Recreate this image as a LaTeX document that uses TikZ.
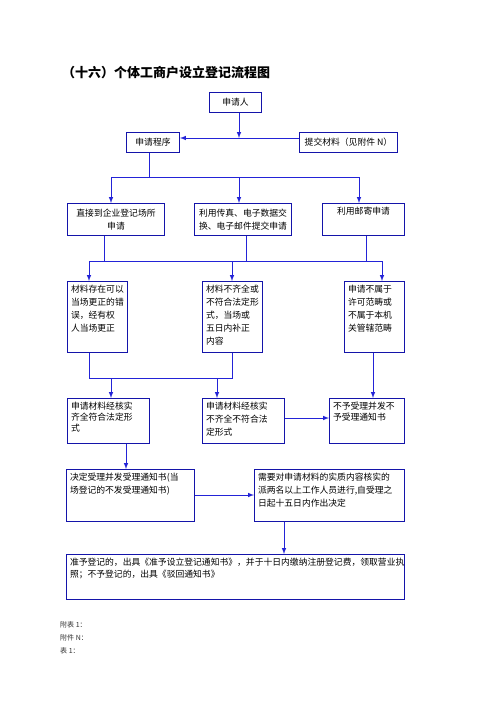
\documentclass[tikz,border=0pt]{standalone}
\usepackage{fontspec}
\setmainfont{Noto Sans CJK SC}
\usepackage{xcolor}
\usepackage{tikz}
\usetikzlibrary{arrows,positioning,calc}
\definecolor{flowblue}{RGB}{20, 20, 170}
\definecolor{linkblue}{RGB}{35, 35, 215}
\definecolor{notegray}{RGB}{50, 50, 50}

\begin{document}
\begin{tikzpicture}[x=1pt, y=-1pt, >=latex,
    flowbox/.style={draw=flowblue, line width=1pt, rectangle, anchor=north west, inner xsep=3.5pt, inner ysep=4pt, font=\fontsize{8.8}{13}\selectfont},
    link/.style={draw=linkblue, line width=1pt},
    arrow/.style={link, ->}]
    \useasboundingbox (0,0) rectangle (496,702);

    \node [anchor=west, inner sep=0pt, font=\fontsize{13}{13}\selectfont\bfseries] (title) at (62,73) {（十六）个体工商户设立登记流程图};

    % top row
    \node [flowbox, minimum width=52pt, minimum height=20pt] (applicant) at (209,92) {申请人};
    \node [flowbox, minimum width=53pt, minimum height=20pt] (program) at (126,132) {申请程序};
    \node [flowbox, minimum width=98pt, minimum height=20pt] (submit) at (299,132) {提交材料（见附件 N）};

    % ways of applying
    \node [flowbox] (direct) at (67,203) {\parbox[c][24pt][c]{90pt}{\centering 直接到企业登记场所\\申请}};
    \node [flowbox] (fax) at (194,203) {\parbox[c][24pt][c]{90pt}{\centering 利用传真、电子数据交\\换、电子邮件提交申请}};
    \node [flowbox] (mail) at (322,203) {\parbox[c][24pt][t]{75pt}{\centering 利用邮寄申请}};

    % checks
    \node [flowbox] (fix) at (67,281) {\parbox[c][63pt][t]{53pt}{\raggedright 材料存在可以\\当场更正的错\\误，经有权\\人当场更正}};
    \node [flowbox] (supplement) at (202,281) {\parbox[c][63pt][t]{53pt}{\raggedright 材料不齐全或\\不符合法定形\\式，当场或\\五日内补正\\内容}};
    \node [flowbox] (outside) at (344,281) {\parbox[c][63pt][t]{53pt}{\raggedright 申请不属于\\许可范畴或\\不属于本机\\关管辖范畴}};

    % results of the check
    \node [flowbox] (complete) at (67,398) {\parbox[c][37pt][t]{75pt}{\fontsize{8.8}{11}\selectfont\raggedright 申请材料经核实\\齐全符合法定形\\式}};
    \node [flowbox] (incomplete) at (202,398) {\parbox[c][37pt][t]{75pt}{\raggedright 申请材料经核实\\不齐全不符合法\\定形式}};
    \node [flowbox] (reject) at (329,398) {\parbox[c][37pt][t]{68pt}{\fontsize{8.8}{10.5}\selectfont\raggedright 不予受理并发不\\予受理通知书}};

    % acceptance
    \node [flowbox] (accept) at (66,469) {\parbox[c][44pt][t]{121pt}{\raggedright 决定受理并发受理通知书(当\\场登记的不发受理通知书)}};
    \node [flowbox] (verify) at (254,469) {\parbox[c][44pt][t]{143pt}{\raggedright 需要对申请材料的实质内容核实的\\派两名以上工作人员进行,自受理之\\日起十五日内作出决定}};
    \node [flowbox] (decide) at (66,554) {\parbox[c][37pt][t]{331pt}{\fontsize{8.8}{12}\selectfont\raggedright 准予登记的，出具《准予设立登记通知书》，并于十日内缴纳注册登记费，领取营业执\\照；不予登记的，出具《驳回通知书》}};

    \node [anchor=west, inner sep=0pt, text=notegray, font=\fontsize{7}{8}\selectfont] (note1) at (60,625) {附表 1：};
    \node [anchor=west, inner sep=0pt, text=notegray, font=\fontsize{7}{8}\selectfont] (note2) at (60,638) {附件 N：};
    \node [anchor=west, inner sep=0pt, text=notegray, font=\fontsize{7}{8}\selectfont] (note3) at (60,651) {表 1：};

    % connectors, top
    \coordinate (join) at (239,138);
    \draw [arrow] (applicant.south -| join) -- (join);
    \draw [arrow] (submit.west |- join) -- (program.east |- join);

    \coordinate (split) at (149,177);
    \coordinate (splitl) at (111,177);
    \coordinate (splitm) at (239,177);
    \coordinate (splitr) at (359,177);
    \draw [link] (program.south -| split) -- (split);
    \draw [link] (splitl) -- (splitr);
    \draw [arrow] (splitl) -- (direct.north -| splitl);
    \draw [arrow] (splitm) -- (fax.north -| splitm);
    \draw [arrow] (splitr) -- (mail.north -| splitr);

    % connectors, second bus
    \coordinate (gatherA) at (104,261);
    \coordinate (gatherB) at (246,261);
    \coordinate (gatherC) at (366,261);
    \coordinate (busl) at (89,261);
    \coordinate (busm) at (232,261);
    \coordinate (busr) at (382,261);
    \draw [link] (direct.south -| gatherA) -- (gatherA);
    \draw [link] (fax.south -| gatherB) -- (gatherB);
    \draw [link] (mail.south -| gatherC) -- (gatherC);
    \draw [link] (busl) -- (busr);
    \draw [arrow] (busl) -- (fix.north -| busl);
    \draw [arrow] (busm) -- (supplement.north -| busm);
    \draw [arrow] (busr) -- (outside.north -| busr);

    % connectors, third bus
    \coordinate (mergel) at (89,378);
    \coordinate (merger) at (232,378);
    \coordinate (dropG) at (111,378);
    \coordinate (dropH) at (217,378);
    \draw [link] (fix.south -| mergel) -- (mergel) -- (merger) -- (supplement.south -| merger);
    \draw [arrow] (dropG) -- (complete.north -| dropG);
    \draw [arrow] (dropH) -- (incomplete.north -| dropH);

    \coordinate (rejx) at (373,380);
    \draw [arrow] (outside.south -| rejx) -- (reject.north -| rejx);
    \coordinate (rejy) at (300,418);
    \draw [arrow] (incomplete.east |- rejy) -- (reject.west |- rejy);

    % connectors, bottom
    \coordinate (accx) at (126,460);
    \draw [arrow] (complete.south -| accx) -- (accept.north -| accx);
    \coordinate (accy) at (220,495);
    \draw [arrow] (accept.east |- accy) -- (verify.west |- accy);
    \coordinate (decx) at (284,540);
    \draw [arrow] (verify.south -| decx) -- (decide.north -| decx);
\end{tikzpicture}
\end{document}
